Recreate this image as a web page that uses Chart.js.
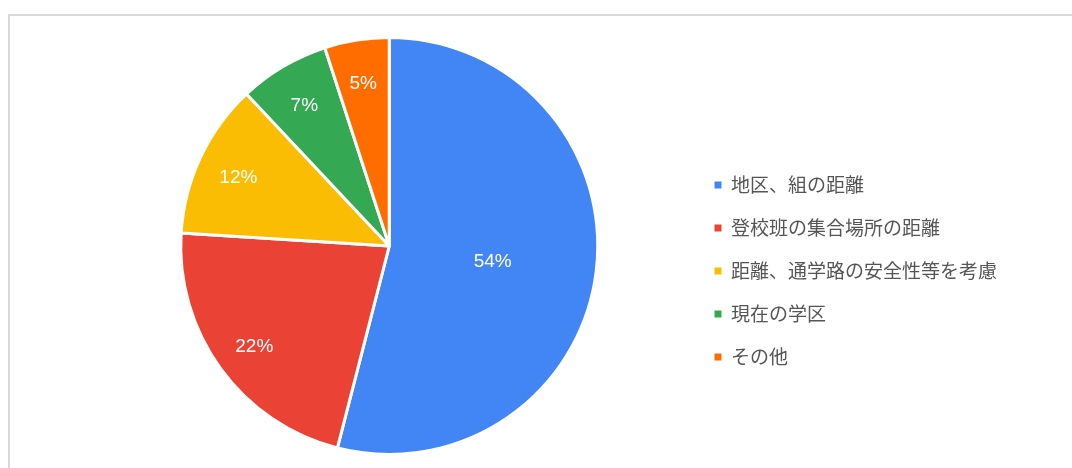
<!DOCTYPE html>
<html>
<head>
<meta charset="utf-8">
<script src="https://cdn.jsdelivr.net/npm/chart.js@4/dist/chart.umd.min.js"></script>
<style>
  html, body { margin: 0; padding: 0; background: #ffffff; }
  body { width: 1072px; height: 468px; position: relative; overflow: hidden; }
  #frame { position: absolute; left: 8px; top: 14px; width: 1100px; height: 500px; border: 2px solid #d9d9d9; box-sizing: border-box; }
  #wrap { position: absolute; left: 0; top: 0; width: 1072px; height: 468px; }
</style>
</head>
<body>
<div id="frame"></div>
<div id="wrap"><canvas id="c" width="1072" height="468"></canvas></div>
<script>
const categories = ['地区、組の距離', '登校班の集合場所の距離', '距離、通学路の安全性等を考慮', '現在の学区', 'その他'];
const values = [54, 22, 12, 7, 5];
const colors = ['#4285f4', '#ea4335', '#fbbc04', '#34a853', '#ff6d01'];

const sliceLabels = {
  id: 'sliceLabels',
  afterDatasetsDraw(chart) {
    const ctx = chart.ctx;
    const meta = chart.getDatasetMeta(0);
    const data = chart.data.datasets[0].data;
    const total = data.reduce((a, b) => a + b, 0);
    ctx.save();
    ctx.fillStyle = '#ffffff';
    ctx.font = '19px "Liberation Sans", Arial, sans-serif';
    ctx.textAlign = 'center';
    ctx.textBaseline = 'middle';
    meta.data.forEach((arc, i) => {
      const p = arc.getProps(['x', 'y', 'startAngle', 'endAngle', 'outerRadius'], true);
      const mid = (p.startAngle + p.endAngle) / 2;
      const pct = data[i] / total * 100;
      const f = pct > 50 ? 0.5 : 0.8;
      const r = p.outerRadius * f;
      ctx.fillText(Math.round(pct) + '%', p.x + Math.cos(mid) * r, p.y + Math.sin(mid) * r + 3);
    });
    ctx.restore();
  }
};

const legendShift = {
  id: 'legendShift',
  afterLayout(chart) {
    const lg = chart.legend;
    if (lg) { lg.top += 25; lg.bottom += 25; }
  }
};

new Chart(document.getElementById('c'), {
  type: 'pie',
  data: {
    labels: categories,
    datasets: [{
      data: values,
      backgroundColor: colors,
      borderColor: '#ffffff',
      borderWidth: 3
    }]
  },
  options: {
    responsive: false,
    animation: false,
    layout: { padding: { top: 36, bottom: 12, left: 88, right: 65 } },
    plugins: {
      tooltip: { enabled: false },
      legend: {
        position: 'right',
        align: 'center',
        labels: {
          boxWidth: 7,
          boxHeight: 7,
          padding: 24,
          color: '#555555',
          font: { family: '"Noto Sans CJK JP", sans-serif', size: 19 },
          generateLabels(chart) {
            const items = Chart.overrides.pie.plugins.legend.labels.generateLabels(chart);
            items.forEach(it => { it.lineWidth = 0; it.strokeStyle = it.fillStyle; });
            return items;
          }
        }
      }
    }
  },
  plugins: [sliceLabels, legendShift]
});
</script>
</body>
</html>
